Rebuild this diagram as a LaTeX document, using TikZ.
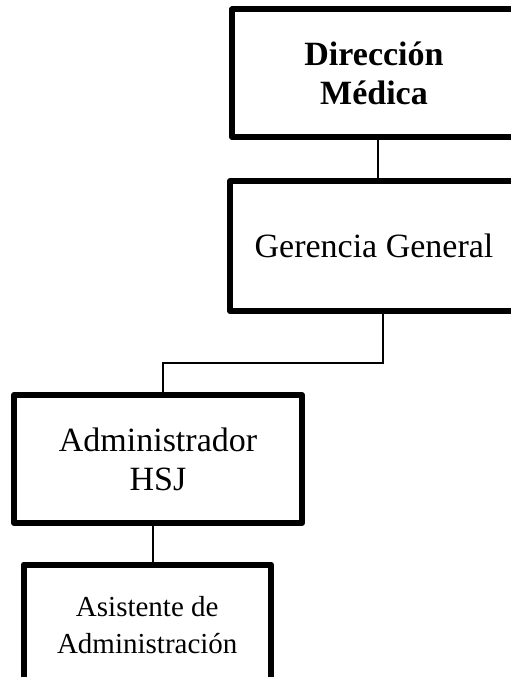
\documentclass[tikz,border=0pt]{standalone}
\usepackage{fontspec}
\setmainfont{Liberation Serif}
\usetikzlibrary{calc}
\begin{document}
\begin{tikzpicture}[x=1pt,y=-1pt,
  orgbox/.style={draw=black, line width=6pt, line join=round, fill=white,
    align=center, inner sep=0pt},
  bigtext/.style={font=\fontsize{34}{39}\selectfont},
  smalltext/.style={font=\fontsize{29}{37}\selectfont},
  link/.style={draw=black, line width=1.4pt}]
  \clip (0,0) rectangle (511,677);
  \fill[white] (0,0) rectangle (511,677);

  % the four boxes of the chart
  \node[orgbox, font=\fontsize{34}{39}\selectfont\bfseries,
        minimum width=284pt, minimum height=127.5pt] (dir) at (374,73.25)
        {Dirección\\Médica};
  \node[orgbox, bigtext, minimum width=288pt, minimum height=130pt]
        (ger) at (374,246) {Gerencia General};
  \node[orgbox, bigtext, minimum width=288pt, minimum height=128pt]
        (adm) at (158,459) {Administrador\\HSJ};
  \node[orgbox, smalltext, minimum width=247.5pt, minimum height=121pt]
        (asi) at (147.25,625) {Asistente de\\Administración};

  % attachment points of the connectors
  \coordinate (dirS) at ($(dir.south)+(4,0)$);
  \coordinate (gerN) at ($(ger.north)+(4,0)$);
  \coordinate (gerS) at ($(ger.south)+(9,0)$);
  \coordinate (admN) at ($(adm.north)+(5,0)$);
  \coordinate (admS) at ($(adm.south)+(-5,0)$);
  \coordinate (asiN) at ($(asi.north)+(5.75,0)$);
  \coordinate (bend) at (0,363);

  \draw[link] (dirS) -- (gerN);
  \draw[link] (gerS) -- (gerS |- bend) -| (admN);
  \draw[link] (admS) -- (asiN);
\end{tikzpicture}
\end{document}
